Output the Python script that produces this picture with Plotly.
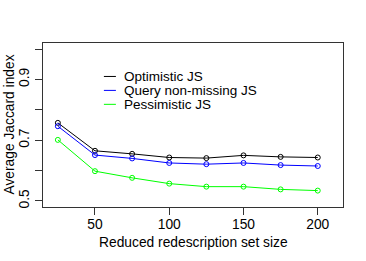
import plotly.graph_objects as go

sizes = [25, 50, 75, 100, 125, 150, 175, 200]
optimistic = [0.757, 0.665, 0.655, 0.643, 0.641, 0.650, 0.645, 0.643]
query_nm = [0.746, 0.651, 0.640, 0.625, 0.621, 0.625, 0.618, 0.615]
pessimistic = [0.701, 0.598, 0.576, 0.557, 0.547, 0.547, 0.538, 0.534]
names = ["Optimistic JS", "Query non-missing JS", "Pessimistic JS"]
colors = ["#000000", "#0000FF", "#00FF00"]
x_ticks = [50, 100, 150, 200]
y_ticks = [0.5, 0.6, 0.7, 0.8, 0.9, 1.0]
y_ticklabels = ["0.5", "", "0.7", "", "0.9", ""]
x_title = "Reduced redescription set size"
y_title = "Average Jaccard index"

FONT = "Liberation Sans, Arial, sans-serif"
FS = 13.8
fig = go.Figure()
for vals, name, c in zip([optimistic, query_nm, pessimistic], names, colors):
    fig.add_trace(go.Scatter(
        x=sizes, y=vals, name=name, mode="lines+markers",
        line=dict(color=c, width=1),
        marker=dict(symbol="circle-open", size=5, color=c, line=dict(width=1, color=c)),
        showlegend=False,
    ))

# legend drawn manually (R style)
leg_y = [0.796, 0.711, 0.626]
for name, c, yy in zip(names, colors, leg_y):
    fig.add_shape(type="line", xref="paper", yref="paper",
                  x0=0.203, x1=0.243, y0=yy, y1=yy, line=dict(color=c, width=1))
    fig.add_annotation(xref="paper", yref="paper", x=0.265, y=yy, text=name,
                       showarrow=False, xanchor="left", yanchor="middle",
                       borderpad=0,
                       font=dict(size=13.5, color="black", family=FONT))

# axis titles (placed as in the reference)
fig.add_annotation(xref="paper", yref="paper", x=0.5, y=-0.2195, text=x_title,
                   showarrow=False, xanchor="center", yanchor="middle", borderpad=0,
                   font=dict(size=FS, color="black", family=FONT))
fig.add_annotation(xref="paper", yref="paper", x=-0.115, y=0.5, text=y_title,
                   textangle=-90, showarrow=False, xanchor="center", yanchor="middle",
                   borderpad=0, font=dict(size=FS, color="black", family=FONT))

fig.update_layout(
    width=366, height=261,
    margin=dict(l=43, r=23, t=43, b=54),
    paper_bgcolor="white", plot_bgcolor="white",
    font=dict(family=FONT, size=FS, color="black"),
    xaxis=dict(range=[15, 217], tickvals=x_ticks, ticks="outside", ticklen=7,
               tickcolor="#333", showgrid=False, zeroline=False, automargin=False,
               showline=True, mirror=True, linecolor="#333", linewidth=1,
               ticklabelstandoff=-3, tickfont=dict(size=FS)),
    yaxis=dict(range=[0.48, 1.02], tickvals=y_ticks, ticktext=y_ticklabels,
               ticks="outside", ticklen=7, tickcolor="#333", tickangle=-90,
               showgrid=False, zeroline=False, automargin=False,
               showline=True, mirror=True, linecolor="#333", linewidth=1,
               ticklabelstandoff=0, tickfont=dict(size=FS)),
)
# remove the default 8px page margin so the figure fills the window
fig.write_html("out.html", config={"displayModeBar": False},
               post_script="document.body.style.margin='0px';")
